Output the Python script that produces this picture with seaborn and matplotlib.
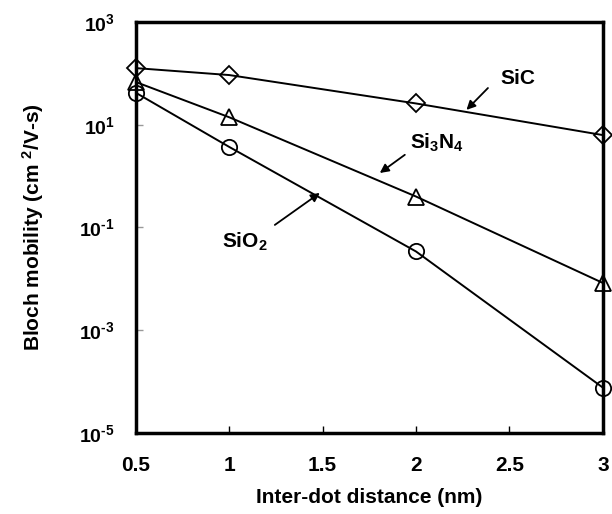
import matplotlib
matplotlib.use("Agg")
import matplotlib.pyplot as plt
import seaborn as sns
import pandas as pd

distance = [0.5, 1, 2, 3]
sic = [127, 93, 26, 6.3]
si3n4 = [68, 14, 0.40, 0.0083]
sio2 = [42, 3.7, 0.034, 7.6e-5]

x_ticks = [0.5, 1, 1.5, 2, 2.5, 3]
x_tick_labels = ["0.5", "1", "1.5", "2", "2.5", "3"]
y_exponents = [3, 1, -1, -3, -5]

sns.set_style("ticks")
plt.rcParams['font.family'] = ['Liberation Sans', 'DejaVu Sans']
plt.rcParams['font.weight'] = 'bold'
plt.rcParams['text.color'] = 'black'
plt.rcParams['axes.labelcolor'] = 'black'
plt.rcParams['xtick.labelcolor'] = 'black'
plt.rcParams['ytick.labelcolor'] = 'black'
plt.rcParams['mathtext.fontset'] = 'custom'
plt.rcParams['mathtext.rm'] = 'Liberation Sans:bold'
plt.rcParams['mathtext.bf'] = 'Liberation Sans:bold'
plt.rcParams['mathtext.it'] = 'Liberation Sans:bold'
plt.rcParams['mathtext.default'] = 'bf'

fig = plt.figure(figsize=(6.12, 5.14), dpi=100)
ax = fig.add_axes([0.222, 0.158, 0.763, 0.799])

series = [("SiC", sic, "D", 9), ("Si3N4", si3n4, "^", 11), ("SiO2", sio2, "o", 11)]
for name, vals, mk, ms in series:
    df = pd.DataFrame({"x": distance, "y": vals})
    sns.lineplot(data=df, x="x", y="y", ax=ax, color="black", linewidth=1.4,
                 marker=mk, markersize=ms, markerfacecolor="none",
                 markeredgecolor="black", markeredgewidth=1.3, clip_on=False)

ax.set_yscale("log")
ax.set_xlim(0.5, 3)
ax.set_ylim(1e-5, 1e3)
ax.set_xticks(x_ticks)
ax.set_xticklabels(x_tick_labels, fontsize=15, fontweight='bold', color='black')
ax.set_yticks([10.0 ** e for e in y_exponents])
ax.set_yticklabels([r"$10^{%s}$" % (r"\text{-}%d" % -e if e < 0 else "%d" % e)
                    for e in y_exponents], fontsize=14, color='black')
ax.yaxis.set_minor_locator(matplotlib.ticker.NullLocator())
ax.tick_params(axis='x', direction="in", length=5, width=1, colors="black",
               labelcolor='black', pad=17)
ax.tick_params(axis='y', direction="in", length=5, width=1, colors='#999999',
               labelcolor='black', pad=15)
for s in ax.spines.values():
    s.set_linewidth(2.5)
    s.set_color("black")

ax.set_xlabel("Inter-dot distance (nm)", fontsize=15, fontweight='bold', labelpad=9, color='black')
ax.set_ylabel(r"Bloch mobility (cm $^2$/V-s)", fontsize=15, fontweight='bold', labelpad=24, color='black')

arrow = dict(arrowstyle="-|>", color="black", lw=1.3, mutation_scale=13, shrinkA=0, shrinkB=0)
ax.text(2.545, 81, "SiC", fontsize=15, fontweight='bold', ha='center', va='center', color='black')
ax.annotate("", xy=(2.27, 19.5), xytext=(2.385, 52), arrowprops=arrow)
ax.text(2.11, 4.4, r"Si$_3$N$_4$", fontsize=15, fontweight='bold', ha='center', va='center', color='black')
ax.annotate("", xy=(1.806, 1.15), xytext=(1.94, 2.6), arrowprops=arrow)
ax.text(1.083, 0.052, r"SiO$_2$", fontsize=15, fontweight='bold', ha='center', va='center', color='black')
ax.annotate("", xy=(1.485, 0.47), xytext=(1.244, 0.112), arrowprops=arrow)

fig.savefig("out.png", dpi=100)
